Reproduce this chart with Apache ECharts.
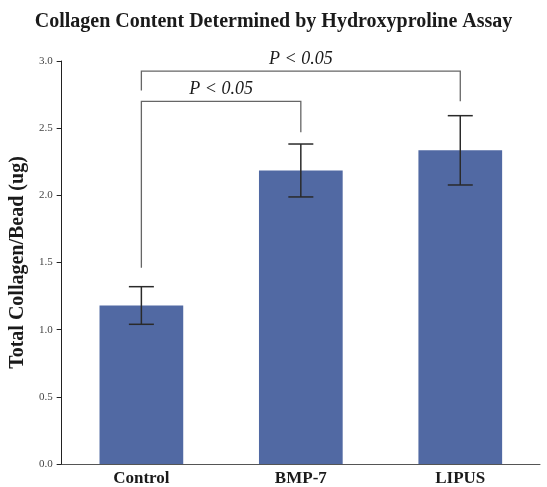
<!DOCTYPE html>
<html>
<head>
<meta charset="utf-8">
<script src="https://cdn.jsdelivr.net/npm/echarts@6/dist/echarts.min.js"></script>
<style>
  html, body { margin: 0; padding: 0; background: #fff; }
  #chart { width: 547px; height: 487px; }
</style>
</head>
<body>
<div id="chart"></div>
<script>
// Group labels and measured collagen content (mean with error half-width)
var categories = ['Control', 'BMP-7', 'LIPUS'];
var means = [1.18, 2.185, 2.335];
var errors = [0.14, 0.197, 0.258];
var yTicks = [0, 0.5, 1.0, 1.5, 2.0, 2.5, 3.0];

// Significance brackets: [from index, to index, top value, left drop, right drop, label]
var brackets = [
  [0, 1, 2.70, 1.46, 2.47, 'P < 0.05'],
  [0, 2, 2.925, 2.78, 2.70, 'P < 0.05']
];

var serif = '"Liberation Serif", "Times New Roman", serif';
var chart = echarts.init(document.getElementById('chart'));

var errData = categories.map(function (c, i) {
  return [i, means[i] - errors[i], means[i] + errors[i]];
});

chart.setOption({
  animation: false,
  title: {
    text: 'Collagen Content Determined by Hydroxyproline Assay',
    left: 'center',
    top: 7,
    textStyle: { fontFamily: serif, fontWeight: 'bold', fontSize: 20, color: '#1a1a1a' }
  },
  grid: { left: 55, right: 7, top: 61, bottom: 22 },
  xAxis: {
    type: 'category',
    data: categories,
    axisLine: { lineStyle: { color: '#555', width: 1 } },
    axisTick: { show: false },
    axisLabel: { fontFamily: serif, fontWeight: 'bold', fontSize: 17, color: '#1a1a1a', margin: 6 }
  },
  yAxis: {
    type: 'value',
    min: yTicks[0],
    max: yTicks[yTicks.length - 1],
    interval: 0.5,
    name: 'Total Collagen/Bead (ug)',
    nameLocation: 'middle',
    nameGap: 26,
    nameTextStyle: { fontFamily: serif, fontWeight: 'bold', fontSize: 20, color: '#1a1a1a' },
    axisLine: { show: true, lineStyle: { color: '#222', width: 1 } },
    axisTick: { show: true, length: 5, lineStyle: { color: '#222' } },
    splitLine: { show: false },
    axisLabel: {
      fontFamily: serif, fontSize: 11, color: '#444', margin: 9,
      formatter: function (v) { return v.toFixed(1); }
    }
  },
  series: [
    {
      type: 'bar',
      data: means,
      barWidth: '52.5%',
      itemStyle: { color: '#5169a3' }
    },
    {
      type: 'custom',
      data: errData,
      z: 5,
      renderItem: function (params, api) {
        var x = api.value(0);
        var lo = api.coord([x, api.value(1)]);
        var hi = api.coord([x, api.value(2)]);
        var half = 12.5;
        var style = { stroke: '#2a2a2a', lineWidth: 1.5 };
        return {
          type: 'group',
          children: [
            { type: 'line', shape: { x1: lo[0], y1: lo[1], x2: hi[0], y2: hi[1] }, style: style },
            { type: 'line', shape: { x1: hi[0] - half, y1: hi[1], x2: hi[0] + half, y2: hi[1] }, style: style },
            { type: 'line', shape: { x1: lo[0] - half, y1: lo[1], x2: lo[0] + half, y2: lo[1] }, style: style }
          ]
        };
      }
    },
    {
      type: 'custom',
      data: brackets,
      z: 4,
      renderItem: function (params, api) {
        var b = brackets[params.dataIndex];
        var pL = api.coord([b[0], b[3]]);
        var pR = api.coord([b[1], b[4]]);
        var tL = api.coord([b[0], b[2]]);
        var tR = api.coord([b[1], b[2]]);
        return {
          type: 'group',
          children: [
            {
              type: 'polyline',
              shape: { points: [pL, tL, tR, pR] },
              style: { stroke: '#666', lineWidth: 1.3, fill: null }
            },
            {
              type: 'text',
              style: {
                x: (tL[0] + tR[0]) / 2,
                y: tL[1] - 3,
                text: b[5],
                align: 'center',
                verticalAlign: 'bottom',
                font: 'italic 18px ' + serif,
                fill: '#1a1a1a'
              }
            }
          ]
        };
      }
    }
  ]
});
</script>
</body>
</html>
